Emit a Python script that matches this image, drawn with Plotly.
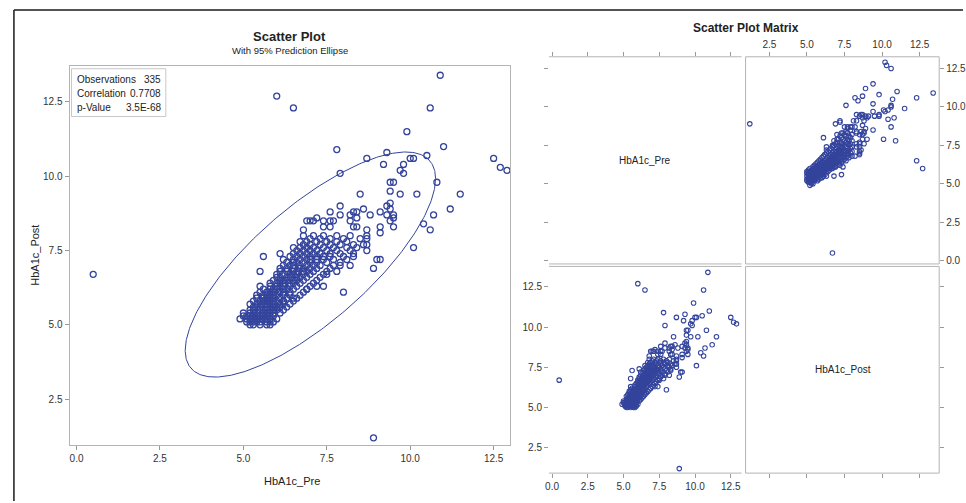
import numpy as np
import plotly.graph_objects as go

# ---------------- data (HbA1c_Pre, HbA1c_Post) ----------------
pre_dense = [
    5.2, 5.3, 5.5, 5.7, 5.8,
    5.1, 5.2, 5.3, 5.4, 5.5, 5.7, 5.8, 5.9,
    4.9, 5.1, 5.2, 5.3, 5.4, 5.5, 5.6, 5.7, 5.8, 6.0,
    5.0, 5.1, 5.2, 5.3, 5.4, 5.5, 5.6, 5.7, 5.8, 5.9,
    5.0, 5.2, 5.3, 5.4, 5.6, 5.7, 5.8, 5.9, 6.1,
    5.2, 5.3, 5.5, 5.6, 5.7, 5.8, 5.9, 6.0, 6.2,
    5.3, 5.4, 5.5, 5.7, 5.8, 5.9, 6.0, 6.1, 6.3,
    5.2, 5.4, 5.5, 5.6, 5.7, 5.8, 5.9, 6.1, 6.4,
    5.3, 5.5, 5.6, 5.7, 5.8, 5.9, 6.0, 6.2, 6.5,
    5.4, 5.6, 5.7, 5.8, 5.9, 6.1, 6.3, 6.6,
    5.4, 5.6, 5.7, 5.8, 5.9, 6.0, 6.2, 6.4, 6.7,
    5.5, 5.7, 5.8, 5.9, 6.1, 6.2, 6.4, 6.8,
    5.6, 5.8, 5.9, 6.0, 6.2, 6.3, 6.5, 6.9,
    5.5, 5.8, 6.0, 6.1, 6.2, 6.4, 6.6, 7.0,
    5.8, 6.0, 6.1, 6.2, 6.4, 6.5, 6.7, 7.1,
    5.9, 6.1, 6.2, 6.3, 6.5, 6.6, 6.8, 7.2,
    6.0, 6.1, 6.3, 6.4, 6.6, 6.7, 6.9, 7.3,
    6.0, 6.2, 6.4, 6.5, 6.6, 6.8, 7.0, 7.4,
    6.1, 6.3, 6.5, 6.6, 6.8, 6.9, 7.1, 7.5,
    6.1, 6.3, 6.5, 6.7, 6.8, 7.0, 7.2, 7.6,
    6.2, 6.4, 6.5, 6.7, 6.9, 7.1, 7.3, 7.7,
    6.3, 6.5, 6.6, 6.8, 7.0, 7.2, 7.5, 7.9,
    6.2, 6.5, 6.7, 6.9, 7.0, 7.2, 7.4, 7.7, 8.1,
    6.4, 6.6, 6.8, 7.0, 7.2, 7.4, 7.6, 8.0,
    6.1, 6.5, 6.7, 6.9, 7.1, 7.3, 7.6, 7.9, 8.3,
    6.6, 6.8, 7.0, 7.2, 7.5, 7.8, 8.2,
    6.5, 6.7, 6.9, 7.1, 7.4, 7.7, 8.1,
    6.8, 7.0, 7.3, 7.6, 7.9, 8.3,
    6.7, 6.9, 7.2, 7.5, 7.8, 8.1,
    7.0, 7.3, 7.6, 8.0, 8.5,
    6.8, 7.1, 7.4, 7.8, 8.2, 8.7,
]
post_dense = [
    5.0, 5.0, 5.0, 5.0, 5.0,
    5.1, 5.1, 5.1, 5.1, 5.1, 5.1, 5.1, 5.1,
    5.2, 5.2, 5.2, 5.2, 5.2, 5.2, 5.2, 5.2, 5.2, 5.2,
    5.3, 5.3, 5.3, 5.3, 5.3, 5.3, 5.3, 5.3, 5.3, 5.3,
    5.4, 5.4, 5.4, 5.4, 5.4, 5.4, 5.4, 5.4, 5.4,
    5.5, 5.5, 5.5, 5.5, 5.5, 5.5, 5.5, 5.5, 5.5,
    5.6, 5.6, 5.6, 5.6, 5.6, 5.6, 5.6, 5.6, 5.6,
    5.7, 5.7, 5.7, 5.7, 5.7, 5.7, 5.7, 5.7, 5.7,
    5.8, 5.8, 5.8, 5.8, 5.8, 5.8, 5.8, 5.8, 5.8,
    5.9, 5.9, 5.9, 5.9, 5.9, 5.9, 5.9, 5.9,
    6.0, 6.0, 6.0, 6.0, 6.0, 6.0, 6.0, 6.0, 6.0,
    6.1, 6.1, 6.1, 6.1, 6.1, 6.1, 6.1, 6.1,
    6.2, 6.2, 6.2, 6.2, 6.2, 6.2, 6.2, 6.2,
    6.3, 6.3, 6.3, 6.3, 6.3, 6.3, 6.3, 6.3,
    6.4, 6.4, 6.4, 6.4, 6.4, 6.4, 6.4, 6.4,
    6.5, 6.5, 6.5, 6.5, 6.5, 6.5, 6.5, 6.5,
    6.6, 6.6, 6.6, 6.6, 6.6, 6.6, 6.6, 6.6,
    6.7, 6.7, 6.7, 6.7, 6.7, 6.7, 6.7, 6.7,
    6.8, 6.8, 6.8, 6.8, 6.8, 6.8, 6.8, 6.8,
    6.9, 6.9, 6.9, 6.9, 6.9, 6.9, 6.9, 6.9,
    7.0, 7.0, 7.0, 7.0, 7.0, 7.0, 7.0, 7.0,
    7.1, 7.1, 7.1, 7.1, 7.1, 7.1, 7.1, 7.1,
    7.2, 7.2, 7.2, 7.2, 7.2, 7.2, 7.2, 7.2, 7.2,
    7.3, 7.3, 7.3, 7.3, 7.3, 7.3, 7.3, 7.3,
    7.4, 7.4, 7.4, 7.4, 7.4, 7.4, 7.4, 7.4, 7.4,
    7.5, 7.5, 7.5, 7.5, 7.5, 7.5, 7.5,
    7.6, 7.6, 7.6, 7.6, 7.6, 7.6, 7.6,
    7.7, 7.7, 7.7, 7.7, 7.7, 7.7,
    7.8, 7.8, 7.8, 7.8, 7.8, 7.8,
    7.9, 7.9, 7.9, 7.9, 7.9,
    8.0, 8.0, 8.0, 8.0, 8.0, 8.0,
]
pre_sparse = [
    0.5, 8.9, 6.0, 6.5, 7.8, 10.9, 10.6, 9.9, 11.0, 9.3,
    8.7, 9.2, 10.0, 10.1, 10.5, 9.8, 9.7, 9.8, 12.5, 12.7,
    12.9, 7.9, 10.8, 9.4, 9.5, 9.4, 10.2, 9.7, 8.5, 11.5,
    11.2, 10.7, 10.4, 10.6, 10.1, 8.0, 8.9, 9.0, 9.1, 5.6,
    5.5, 7.9, 7.6, 6.9, 7.1, 6.8, 7.4, 7.6, 7.7, 7.4,
    7.6, 8.3, 8.4, 8.2, 8.3, 8.4,
    9.4, 9.3, 9.4, 7.9, 8.6, 8.4, 8.2, 8.8, 9.1, 9.3, 9.4, 7.0, 7.2, 9.5, 9.5,
    9.5, 9.1, 9.1, 8.7, 8.7, 8.6, 8.7, 8.4, 8.3, 8.7,
    8.2, 7.8, 7.9, 7.5, 7.2, 7.4, 6.9, 6.5, 6.2, 6.2,
]
post_sparse = [
    6.7, 1.2, 12.7, 12.3, 10.9, 13.4, 12.3, 11.5, 11.0, 10.8,
    10.6, 10.4, 10.6, 10.6, 10.7, 10.4, 10.2, 10.1, 10.6, 10.3,
    10.2, 10.1, 9.8, 9.8, 9.8, 9.5, 9.4, 9.4, 9.4, 9.4,
    8.9, 8.7, 8.4, 8.2, 7.6, 6.1, 6.9, 7.2, 7.2, 7.3,
    6.8, 9.0, 8.8, 8.5, 8.5, 8.2, 8.5, 8.5, 8.5, 8.3,
    8.3, 8.8, 8.6, 8.5, 8.3, 8.3,
    9.1, 9.0, 8.9, 8.7, 8.9, 8.8, 8.7, 8.7, 8.8, 8.7, 8.5, 8.5, 8.6, 8.7, 8.6,
    8.3, 8.3, 8.1, 8.2, 7.9, 7.7, 7.7, 7.6, 7.3, 7.5,
    7.0, 6.8, 7.0, 6.7, 6.3, 6.3, 6.2, 5.9, 5.8, 5.7,
]

tick_vals = [0.0, 2.5, 5.0, 7.5, 10.0, 12.5]
tick_text = ["0.0", "2.5", "5.0", "7.5", "10.0", "12.5"]
post_tick_vals = [2.5, 5.0, 7.5, 10.0, 12.5]
post_tick_text = ["2.5", "5.0", "7.5", "10.0", "12.5"]

stat_labels = ["Observations", "Correlation", "p-Value"]
stat_values = ["335", "0.7708", "3.5E-68"]
f_quantile_95 = 3.023  # F(0.95; 2, n-2)

# ---------------- derived ----------------
pre = np.array(pre_dense + pre_sparse)
post = np.array(post_dense + post_sparse)
n = len(pre)
mu = np.array([pre.mean(), post.mean()])
cov = np.cov(np.vstack([pre, post]))
c2 = 2 * (n - 1) * (n + 1) / (n * (n - 2)) * f_quantile_95
L = np.linalg.cholesky(cov)
t = np.linspace(0, 2 * np.pi, 361)
circ = np.vstack([np.cos(t), np.sin(t)])
ell = mu[:, None] + np.sqrt(c2) * (L @ circ)

W, H = 966, 503
def px(x):
    return x / W
def py(y):
    return 1 - y / H

BLUE = "#34449c"
AX = "#b4b4b4"
TXT = "#333333"
FONT = "Liberation Sans"

pre_rng = [-0.21, 13.26]
post_rng = [0.92, 13.8]

fig = go.Figure()
fig.add_trace(go.Scatter(x=pre, y=post, mode="markers", xaxis="x", yaxis="y",
                         marker=dict(symbol="circle-open", size=6, color=BLUE, line=dict(width=1.3, color=BLUE)),
                         showlegend=False, hoverinfo="skip"))
fig.add_trace(go.Scatter(x=ell[0], y=ell[1], mode="lines", xaxis="x", yaxis="y",
                         line=dict(color=BLUE, width=1), showlegend=False, hoverinfo="skip"))
fig.add_trace(go.Scatter(x=[None], y=[None], xaxis="x2", yaxis="y2", mode="markers", showlegend=False))
fig.add_trace(go.Scatter(x=post, y=pre, mode="markers", xaxis="x3", yaxis="y3",
                         marker=dict(symbol="circle-open", size=4.5, color=BLUE, line=dict(width=1.1, color=BLUE)),
                         showlegend=False, hoverinfo="skip"))
fig.add_trace(go.Scatter(x=pre, y=post, mode="markers", xaxis="x4", yaxis="y4",
                         marker=dict(symbol="circle-open", size=4.5, color=BLUE, line=dict(width=1.1, color=BLUE)),
                         showlegend=False, hoverinfo="skip"))
fig.add_trace(go.Scatter(x=[None], y=[None], xaxis="x5", yaxis="y5", mode="markers", showlegend=False))

tf = dict(family=FONT, size=10, color=TXT)
base = dict(showgrid=False, zeroline=False, ticks="outside", ticklen=4, tickcolor="#999999",
            linecolor=AX, linewidth=1, tickfont=tf, fixedrange=True)

top_dom = [py(265), py(57)]
bot_dom = [py(475), py(267)]
lc_dom = [px(549), px(743)]
rc_dom = [px(747), px(942)]

fig.update_layout(
    width=W, height=H, margin=dict(l=0, r=0, t=0, b=0),
    paper_bgcolor="white", plot_bgcolor="white", font=dict(family=FONT, color=TXT),
    xaxis=dict(base, domain=[px(66), px(510)], range=[-0.21, 13.0], anchor="y",
               tickvals=tick_vals, ticktext=tick_text, showline=True, mirror=True),
    yaxis=dict(base, domain=[py(447), py(66)], range=[0.95, 13.72], anchor="x",
               tickvals=post_tick_vals, ticktext=post_tick_text, showline=True, mirror=True),
    xaxis2=dict(base, domain=lc_dom, range=pre_rng, anchor="y2", side="top",
                tickvals=tick_vals, showticklabels=False, showline=False),
    yaxis2=dict(base, domain=top_dom, range=pre_rng, anchor="x2", side="left",
                tickvals=tick_vals, showticklabels=False, showline=False),
    xaxis3=dict(base, domain=rc_dom, range=post_rng, anchor="y3", side="top",
                tickvals=post_tick_vals, ticktext=post_tick_text, showline=False),
    yaxis3=dict(base, domain=top_dom, range=pre_rng, anchor="x3", side="right",
                tickvals=tick_vals, ticktext=tick_text, showline=False),
    xaxis4=dict(base, domain=lc_dom, range=pre_rng, anchor="y4", side="bottom",
                tickvals=tick_vals, ticktext=tick_text, showline=False),
    yaxis4=dict(base, domain=bot_dom, range=post_rng, anchor="x4", side="left",
                tickvals=post_tick_vals, ticktext=post_tick_text, showline=False),
    xaxis5=dict(base, domain=rc_dom, range=post_rng, anchor="y5", side="bottom",
                tickvals=post_tick_vals, showticklabels=False, showline=False),
    yaxis5=dict(base, domain=bot_dom, range=post_rng, anchor="x5", side="right",
                tickvals=post_tick_vals, showticklabels=False, showline=False),
)

PL = dict(color="#b4b4b4", width=1)
def hline(x0, x1, y):
    return dict(type="line", xref="paper", yref="paper", x0=px(x0), x1=px(x1), y0=py(y), y1=py(y), line=PL)
def box(x0, x1, y0, y1):
    return dict(type="rect", xref="paper", yref="paper", x0=px(x0), x1=px(x1), y0=py(y1), y1=py(y0), line=PL)

shapes = [
    dict(type="line", xref="paper", yref="paper", x0=px(10), x1=1, y0=py(10), y1=py(10),
         line=dict(color="#1a1a1a", width=1.5)),
    dict(type="line", xref="paper", yref="paper", x0=px(10), x1=px(10), y0=py(10), y1=0,
         line=dict(color="#1a1a1a", width=1.5)),
    dict(type="rect", xref="paper", yref="paper", x0=px(68), x1=px(163), y0=py(117), y1=py(69),
         line=dict(color="#c8c8c8", width=1), fillcolor="white"),
    hline(549, 743, 57), hline(549, 743, 265),
    hline(549, 743, 267.5), hline(549, 743, 475),
    box(747, 942, 57, 265),
    box(747, 942, 267.5, 475),
]
fig.update_layout(shapes=shapes)

ann = []
def add(text, x, y, size=10, bold=False, xanchor="center", angle=0):
    ann.append(dict(text=("<b>%s</b>" % text) if bold else text, x=px(x), y=py(y), xref="paper", yref="paper",
                    showarrow=False, xanchor=xanchor, yanchor="middle", textangle=angle,
                    font=dict(family=FONT, size=size, color="#222222")))

add("Scatter Plot", 288, 37, size=13, bold=True)
add("With 95% Prediction Ellipse", 288, 51, size=9.5)
add("Scatter Plot Matrix", 747, 28, size=12, bold=True)
add("HbA1c_Pre", 290, 483, size=11)
add("HbA1c_Post", 31, 256, size=11, angle=-90)
add("HbA1c_Pre", 646, 161, size=10)
add("HbA1c_Post", 845, 371, size=10)
for i, (lab, val) in enumerate(zip(stat_labels, stat_values)):
    yy = 80 + 14 * i
    add(lab, 72, yy, size=10, xanchor="left")
    add(val, 160, yy, size=10, xanchor="right")
fig.update_layout(annotations=ann)

fig.write_html("out.html")
